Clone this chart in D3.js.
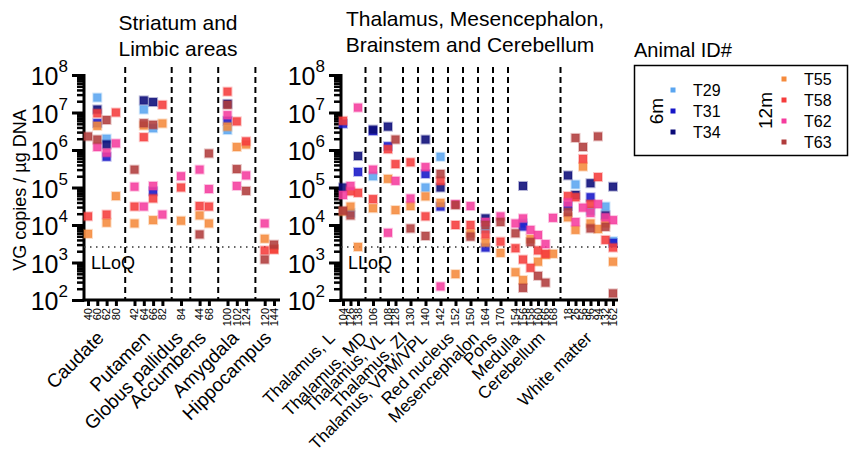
<!DOCTYPE html>
<html>
<head>
<meta charset="utf-8">
<script src="https://cdn.jsdelivr.net/npm/d3@7"></script>
<style>
  body { margin: 0; background: #fff; }
  text { font-family: "Liberation Sans", Arial, sans-serif; fill: #000; }
</style>
</head>
<body>
<svg id="chart" width="851" height="453"></svg>
<script>
// regions and the sample numbers shown under each of them
const leftRegions = ["Caudate", "Putamen", "Globus pallidus", "Accumbens", "Amygdala", "Hippocampus"];
const leftSamples = [["40", "60", "62", "80"], ["42", "64", "66", "82"], ["84"], ["44", "68"], ["100", "102", "124"], ["120", "144"]];
const rightRegions = ["Thalamus, L", "Thalamus, MD", "Thalamus, VL", "Thalamus, ZI", "Thalamus, VPM/VPL",
                      "Red nucleus", "Mesencephalon", "Pons", "Medulla", "Cerebellum", "White matter"];
const rightSamples = [["104", "126", "138"], ["106"], ["108", "128"], ["130"], ["140"], ["142"], ["152"], ["150"],
                      ["164"], ["170"], ["154", "156", "158", "160", "166", "168"], ["18", "26", "56", "96", "94", "132", "162"]];

const animals6m = ["T29", "T31", "T34"];
const animals12m = ["T55", "T58", "T62", "T63"];
const lloq = 2600;

// VG copies / ug DNA, per animal, keyed by sample number
const T29 = {60: 2.5e7, 62: 2.0e6, 64: 1.2e7, 66: 3.8e6, 100: 3.4e6, 126: 2.1e4, 106: 2.0e5, 140: 1.0e5, 142: 6.6e5,
             164: 7.8e3, 156: 1.1e4, 26: 1.2e5, 96: 2.4e4, 132: 3.1e4, 162: 3.7e3};
const T31 = {60: 5.2e6, 62: 6.6e5, 66: 7.9e4, 100: 6.0e6, 104: 5.0e6, 138: 2.6e5, 106: 3.2e6, 108: 1.26e6, 140: 2.3e5,
             142: 3.1e4, 164: 2.5e3, 156: 9.1e3, 18: 3.2e4, 96: 5.5e4, 162: 3.3e3};
const T34 = {60: 1.2e7, 62: 1.4e6, 64: 2.1e7, 66: 1.9e7, 100: 1.7e7, 104: 1.0e5, 138: 6.9e5, 106: 3.5e6, 108: 4.2e6,
             140: 1.9e6, 142: 1.0e5, 164: 1.5e4, 156: 1.1e5, 18: 2.1e5, 26: 6.3e4, 96: 1.3e5, 132: 1.8e4, 162: 1.05e5};
const T55 = {40: 5.8e3, 60: 4.4e6, 62: 1.15e4, 80: 5.9e4, 42: 1.1e4, 64: 4.5e6, 66: 1.35e4, 82: 5.1e6, 84: 1.3e4,
             44: 1.8e4, 68: 1.1e4, 100: 4.2e6, 102: 1.2e6, 124: 1.4e6, 120: 4.3e3, 144: 2.3e3,
             104: 2.3e4, 126: 3.1e4, 138: 2.6e3, 106: 2.8e4, 108: 1.7e5, 128: 2.5e4, 130: 3.2e4, 140: 5.8e4, 142: 3.9e4,
             152: 490, 150: 6.0e3, 164: 3.4e3, 170: 1.8e3, 154: 550, 156: 340, 158: 4.2e3, 160: 1.05e3, 166: 1.6e3,
             168: 1.7e3, 18: 1.6e4, 26: 7.4e3, 56: 3.6e5, 96: 1.1e4, 94: 7.8e3, 132: 1.1e4, 162: 1.05e3};
const T58 = {40: 1.7e4, 60: 9.5e6, 62: 1.9e4, 80: 1.0e7, 42: 3.1e4, 64: 2.2e6, 66: 5.1e4, 82: 1.6e7, 84: 1.0e5,
             44: 3.2e4, 68: 3.1e4, 100: 3.6e7, 102: 5.8e6, 124: 1.7e6, 120: 2.1e3, 144: 2.2e3,
             104: 6.0e6, 126: 7.9e4, 138: 7.2e4, 106: 4.9e4, 108: 1.05e6, 128: 4.2e5, 130: 4.7e5, 140: 1.7e4, 142: 1.5e5,
             152: 1.0e4, 150: 1.0e4, 164: 5.6e3, 170: 3.6e3, 154: 2.4e3, 156: 1.2e3, 158: 720, 160: 2.1e3, 166: 1.7e3,
             18: 5.9e4, 26: 5.5e4, 56: 5.8e5, 96: 3.6e4, 94: 1.9e5, 132: 4.0e3, 162: 2.5e3};
const T62 = {60: 1.2e6, 62: 8.5e5, 80: 1.5e6, 42: 1.05e5, 64: 3.1e4, 66: 1.1e5, 82: 1.9e4, 84: 2.0e5, 44: 3.0e5,
             68: 9.1e4, 100: 8.5e6, 102: 1.1e5, 124: 2.1e5, 120: 1.1e4,
             104: 6.3e4, 126: 1.1e5, 138: 1.35e7, 106: 3.0e5, 108: 6.2e3, 128: 1.5e5, 130: 5.1e4, 140: 3.5e5, 142: 230,
             152: 3.6e4, 150: 3.2e4, 164: 1.2e4, 170: 1.7e4, 154: 1.1e4, 156: 1.5e4, 158: 7.4e3, 160: 5.4e3, 166: 3.1e3,
             168: 1.55e4, 18: 4.0e4, 26: 1.2e4, 56: 2.9e4, 96: 2.1e4, 94: 3.6e4, 132: 1.6e4, 162: 1.35e4};
const T63 = {40: 2.3e6, 60: 1.9e6, 62: 6.3e6, 42: 3.0e5, 64: 5.2e6, 66: 4.7e6, 44: 5.6e3, 68: 8.1e5, 100: 1.6e7,
             102: 3.1e5, 124: 8.1e4, 120: 1.2e3, 144: 3.0e3,
             104: 2.4e4, 126: 1.8e4, 128: 1.9e6, 130: 8.1e3, 140: 5.1e3, 142: 2.3e5, 152: 3.4e4, 150: 4.9e3, 164: 1.0e4,
             170: 1.2e4, 154: 6.0e3, 156: 210, 158: 3.5e3, 160: 440, 166: 290, 18: 2.2e4, 26: 2.1e6, 56: 1.2e6,
             96: 8.1e3, 94: 2.3e6, 132: 8.9e3, 162: 150};

const animalValues = {T29, T31, T34, T55, T58, T62, T63};
const colors = {T29: "#5aa5f0", T31: "#1616c8", T34: "#0a0a78", T55: "#f58a3c", T58: "#f53c3c", T62: "#f53c9e", T63: "#b03c3c"};

const svg = d3.select("#chart");

const y = d3.scaleLog().domain([1e2, 1e8]).range([300, 75]);

// one slot per sample, plus an empty slot between regions (where the dashed line goes)
function slots(groups) {
    const s = [];
    groups.forEach((g, i) => {
        if (i > 0) s.push("gap" + i);
        s.push(...g);
    });
    return s;
}

function drawYAxis(x0) {
    const decades = d3.range(2, 9).map(e => Math.pow(10, e));
    const minors = [];
    decades.slice(0, -1).forEach(d => { for (let k = 2; k < 10; k++) minors.push(k * d); });

    svg.append("g")
        .attr("transform", `translate(${x0},0)`)
        .call(d3.axisLeft(y).tickValues(minors).tickSize(7).tickFormat(""))
        .call(g => g.select(".domain").remove())
        .call(g => g.selectAll("line").attr("stroke-width", 2.5));

    svg.append("g")
        .attr("transform", `translate(${x0},0)`)
        .call(d3.axisLeft(y).tickValues(decades).tickSize(12).tickFormat(""))
        .call(g => g.select(".domain").remove())
        .call(g => g.selectAll("line").attr("stroke-width", 3));

    svg.append("line")
        .attr("x1", x0).attr("x2", x0)
        .attr("y1", y(1e8) - 1).attr("y2", y(1e2) + 1.5)
        .attr("stroke", "#000").attr("stroke-width", 3);

    const lbl = svg.append("g").selectAll("text")
        .data(decades)
        .join("text")
            .attr("x", x0 - 16)
            .attr("y", d => y(d) + 10)
            .attr("text-anchor", "end");
    lbl.append("tspan").style("font-size", "25px").text("10");
    lbl.append("tspan").style("font-size", "17px").attr("dy", "-0.75em").text(d => Math.round(Math.log10(d)));
}

function drawPanel(x, groups, regions, x0, x1, labelX, labelSize) {
    const samples = groups.flat();

    drawYAxis(x0);

    // region separators
    svg.append("g")
        .selectAll("line")
        .data(x.domain().filter(s => s.startsWith("gap")))
        .join("line")
            .attr("x1", d => x(d)).attr("x2", d => x(d))
            .attr("y1", 67).attr("y2", 300)
            .attr("stroke", "#000").attr("stroke-width", 2)
            .attr("stroke-dasharray", "6,4");

    // LLoQ
    svg.append("line")
        .attr("x1", x0).attr("x2", x1)
        .attr("y1", y(lloq)).attr("y2", y(lloq))
        .attr("stroke", "#333").attr("stroke-width", 1.5)
        .attr("stroke-dasharray", "1.5,4.5");
    svg.append("text")
        .attr("x", x0 + 7).attr("y", y(lloq) + 22)
        .style("font-size", "18px")
        .text("LLoQ");

    // x axis
    svg.append("g")
        .attr("transform", "translate(0,300)")
        .call(d3.axisBottom(x).tickValues(samples).tickSize(6).tickFormat(""))
        .call(g => g.select(".domain").remove())
        .call(g => g.selectAll("line").attr("stroke-width", 3));
    svg.append("line")
        .attr("x1", x0 - 1.5).attr("x2", x1)
        .attr("y1", 300).attr("y2", 300)
        .attr("stroke", "#000").attr("stroke-width", 3);

    svg.append("g")
        .style("font-size", "11px")
        .selectAll("text")
        .data(samples)
        .join("text")
            .attr("transform", d => `translate(${x(d)},308) rotate(-90)`)
            .attr("text-anchor", "end")
            .attr("dy", "0.35em")
            .text(d => d);

    // region names
    svg.append("g")
        .style("font-size", labelSize)
        .selectAll("text")
        .data(regions)
        .join("text")
            .attr("transform", (d, i) => `translate(${labelX(i)},339) rotate(-45)`)
            .attr("text-anchor", "end")
            .text(d => d);

    // points
    const pts = [];
    [...animals6m, ...animals12m].forEach(a => {
        for (const [s, v] of Object.entries(animalValues[a])) {
            if (samples.includes(s)) pts.push({animal: a, sample: s, value: v});
        }
    });
    svg.append("g")
        .selectAll("rect")
        .data(pts)
        .join("rect")
            .attr("x", d => x(d.sample) - 4)
            .attr("y", d => y(d.value) - 4)
            .attr("width", 8).attr("height", 8)
            .attr("fill", d => colors[d.animal])
            .attr("fill-opacity", 0.88)
            .attr("stroke", d => colors[d.animal])
            .attr("stroke-opacity", 0.3)
            .attr("stroke-width", 2);
}

// left panel
const xL = d3.scalePoint().domain(slots(leftSamples)).range([88, 274]);
drawPanel(xL, leftSamples, leftRegions, 84, 280,
    i => d3.mean(leftSamples[i], s => xL(s)) + 3, "19px");

// right panel (labels sit at their own places along the axis)
const xR = d3.scalePoint().domain(slots(rightSamples)).range([343, 613]);
const rightLabelSlot = [-0.93, 3.33, 5.73, 8.67, 11.33, 14.93, 18.27, 20.67, 23.73, 27.07, 33.33];
drawPanel(xR, rightSamples, rightRegions, 341, 618,
    i => xR(rightSamples[0][0]) + rightLabelSlot[i] * xR.step(), "17px");

// titles
svg.append("g")
    .style("font-size", "21px")
    .attr("text-anchor", "middle")
    .selectAll("text")
    .data([["Striatum and", 178, 30], ["Limbic areas", 178, 56],
           ["Thalamus, Mesencephalon,", 475, 26], ["Brainstem and Cerebellum", 470, 52]])
    .join("text")
        .attr("x", d => d[1]).attr("y", d => d[2])
        .text(d => d[0]);

svg.append("text")
    .attr("transform", "translate(26,190) rotate(-90)")
    .attr("text-anchor", "middle")
    .style("font-size", "18px")
    .text("VG copies / µg DNA");

// legend
svg.append("text").attr("x", 634).attr("y", 57).style("font-size", "20px").text("Animal ID#");
svg.append("rect")
    .attr("x", 634.5).attr("y", 65.5).attr("width", 213).attr("height", 90)
    .attr("fill", "none").attr("stroke", "#000").attr("stroke-width", 1.5);

function legendColumn(names, title, tx, mx, ys) {
    svg.append("text")
        .attr("transform", `translate(${tx},${(ys[0] + ys[ys.length - 1]) / 2}) rotate(-90)`)
        .attr("text-anchor", "middle")
        .style("font-size", "19px")
        .text(title);
    const g = svg.append("g").selectAll("g").data(names).join("g")
        .attr("transform", (d, i) => `translate(${mx},${ys[i]})`);
    g.append("rect").attr("x", -2.5).attr("y", -2.5).attr("width", 5).attr("height", 5)
        .attr("fill", d => colors[d]);
    g.append("text").attr("x", 20).attr("y", 6).style("font-size", "16px").text(d => d);
}
legendColumn(animals6m, "6m", 663, 673, [90, 111, 132]);
legendColumn(animals12m, "12m", 772, 784, [79, 100, 121, 142]);
</script>
</body>
</html>
